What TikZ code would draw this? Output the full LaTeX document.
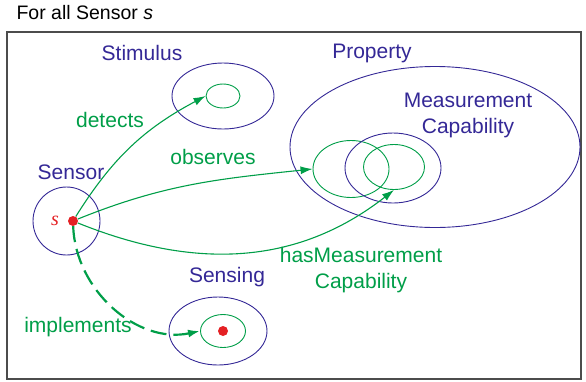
\documentclass[tikz,border=0pt]{standalone}
\usepackage{fontspec}
\setmainfont{Liberation Sans}
\newfontfamily\memberfont{Liberation Serif}
\usepackage{tikz}
\usetikzlibrary{shapes.geometric, arrows.meta}
\usepackage{xcolor}
\definecolor{classblue}{RGB}{52,40,150}
\definecolor{relgreen}{RGB}{0,158,72}
\definecolor{dotred}{RGB}{228,32,36}
\tikzset{
  outerset/.style={draw=classblue, ellipse, line width=0.9pt, inner sep=0pt},
  innerset/.style={draw=relgreen, ellipse, line width=0.9pt, inner sep=0pt},
  member/.style={circle, fill=dotred, minimum size=10pt, inner sep=0pt},
  classname/.style={text=classblue, font=\fontsize{21}{26}\selectfont, align=center},
  relname/.style={text=relgreen, font=\fontsize{21}{26}\selectfont, align=center},
  relation/.style={draw=relgreen, line width=1.1pt, -{Latex[length=12pt,width=8pt]}}
}

\begin{document}
\begin{tikzpicture}[x=1pt,y=-1pt]
            \useasboundingbox (0,0) rectangle (586,381);
            \node[anchor=west, font=\fontsize{19.5}{22}\selectfont] (title) at (13,13) {For all Sensor \textit{s}};
            \draw[draw=black!70, line width=1.2pt] (7,32) rectangle (581,379);
            \node[outerset, minimum width=102pt, minimum height=66pt] (stimulus) at (223,96) {};
                \node[innerset, minimum width=34pt, minimum height=24pt] (stimin) at (223,96) {};
            \node[outerset, minimum width=290pt, minimum height=161pt] (property) at (435,147) {};
                \node[innerset, minimum width=76pt, minimum height=57pt] (propin) at (351,169) {};
            \node[outerset, minimum width=96pt, minimum height=70pt] (capability) at (393,168) {};
                \node[innerset, minimum width=61pt, minimum height=45pt] (capin) at (394,167) {};
            \node[outerset, minimum width=67pt, minimum height=68pt] (sensor) at (66.5,221) {};
                \node[member] (sdot) at (73,221) {};
            \node[outerset, minimum width=98pt, minimum height=68pt] (sensing) at (218,331) {};
                \node[innerset, minimum width=45pt, minimum height=33pt] (sensin) at (223,331) {};
                \node[member] (pdot) at (223,331) {};
            \node[text=dotred, font=\fontsize{20}{22}\memberfont\itshape\selectfont] (slabel) at (55,221) {s};
            \node[classname] (stimlabel) at (142,53) {Stimulus};
            \node[classname] (proplabel) at (372,53) {Property};
            \node[classname] (caplabel) at (468,115) {Measurement\\Capability};
            \node[classname] (senslabel) at (71,172) {Sensor};
            \node[classname] (sensinglabel) at (227,277) {Sensing};
            \node[relname] (detects) at (110,120) {detects};
            \node[relname] (observes) at (213,157) {observes};
            \node[relname] (hasmc) at (361,270) {hasMeasurement\\Capability};
            \node[relname] (implements) at (78,327) {implements};
            \draw[relation] (sdot) to[out=58, in=208] (stimin.west);
            \draw[relation] (sdot) to[out=22, in=186] (propin.west);
            \draw[relation] (sdot) to[out=-22, in=218] (capin.south);
            \draw[relation, line width=2.2pt, dash pattern=on 16pt off 7pt] (sdot) to[out=-88, in=192] (sensin.west);
            \end{tikzpicture}
\end{document}
